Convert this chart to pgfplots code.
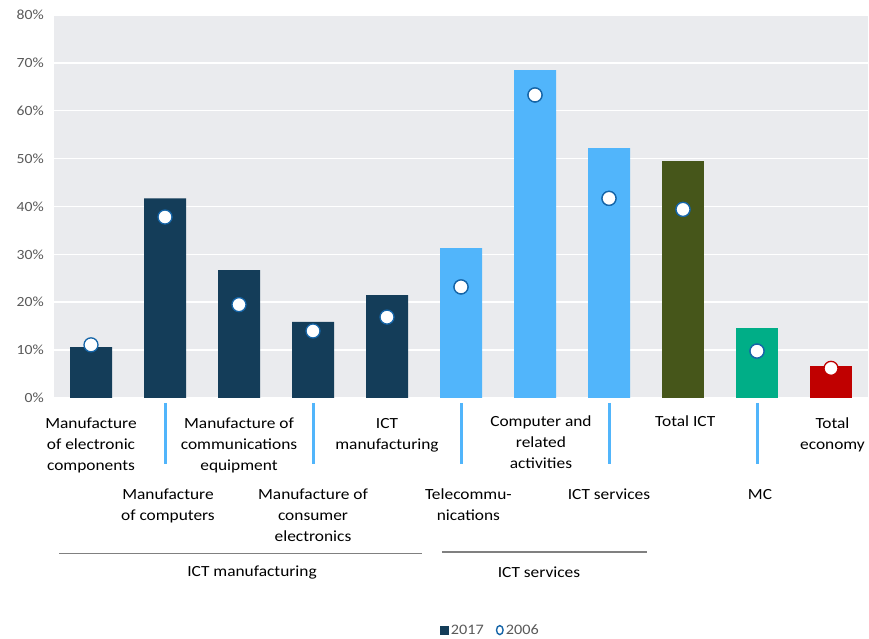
\documentclass[border=0pt]{standalone}
\usepackage{pgfplots}
\pgfplotsset{compat=1.18}
\usepackage{fontspec}
\setmainfont{Carlito}[FakeStretch=1.12]
\definecolor{navy}{HTML}{143D59}
\definecolor{lblue}{HTML}{51B5FB}
\definecolor{olive}{HTML}{46561A}
\definecolor{teal}{HTML}{00AE87}
\definecolor{dred}{HTML}{C00000}
\definecolor{bg}{HTML}{EAEBEE}
\definecolor{mblue}{HTML}{1565A8}
\definecolor{tickgray}{HTML}{595959}
\definecolor{grpgray}{HTML}{808080}
\newcommand{\lbl}{\fontsize{15.5}{21}\selectfont}
\begin{document}
\begin{tikzpicture}[x=1pt,y=1pt]
\useasboundingbox (0,0) rectangle (869,639);
\begin{axis}[
  at={(54pt,241pt)}, anchor=south west,
  scale only axis, width=814pt, height=383pt,
  xmin=-0.5, xmax=10.5, ymin=0, ymax=80,
  axis background/.style={fill=bg},
  axis line style={draw=none},
  ytick={0,10,...,80},
  yticklabel={\pgfmathprintnumber{\tick}\%},
  yticklabel style={font=\fontsize{14}{16}\selectfont, text=tickgray, anchor=east, xshift=-10pt, inner sep=0pt},
  xtick=\empty, minor xtick={0.5,1.5,...,9.5},
  ymajorgrids, xminorgrids,
  grid style={white, line width=1.5pt},
  major tick length=0pt, minor tick length=0pt,
  clip=false,
  /pgf/number format/assume math mode=true,
  legend style={draw=none, fill=none, at={(0.536,-0.606)}, anchor=center,
    legend columns=2, font=\fontsize{14.5}{16}\selectfont, text=tickgray,
    /tikz/every even column/.append style={column sep=10pt}},
]
\addplot[ybar, bar width=42pt, bar shift=0pt, fill=navy, draw=none,
  legend image code/.code={\fill[navy] (0pt,-4.5pt) rectangle (9pt,4.5pt);}]
  coordinates {(0,10.65) (1,41.7) (2,26.7) (3,15.9) (4,21.5)};
\addlegendentry{2017}
\addplot[only marks, mark=*, mark size=7pt, mark options={fill=white, draw=mblue, line width=1.3pt},
  legend image code/.code={\draw[mblue, line width=1.4pt, fill=white] (5pt,0pt) ellipse (3.3pt and 4.5pt);}]
  coordinates {(0,11.1) (1,37.8) (2,19.5) (3,14.0) (4,16.9) (5,23.2) (6,63.3) (7,41.7) (8,39.4) (9,9.8)};
\addlegendentry{2006}
\addplot[ybar, bar width=42pt, bar shift=0pt, fill=lblue, draw=none, forget plot]
  coordinates {(5,31.3) (6,68.5) (7,52.2)};
\addplot[ybar, bar width=42pt, bar shift=0pt, fill=olive, draw=none, forget plot]
  coordinates {(8,49.5)};
\addplot[ybar, bar width=42pt, bar shift=0pt, fill=teal, draw=none, forget plot]
  coordinates {(9,14.6)};
\addplot[ybar, bar width=42pt, bar shift=0pt, fill=dred, draw=none, forget plot]
  coordinates {(10,6.7)};
% redraw markers on top of later bars
\addplot[only marks, mark=*, mark size=7pt, mark options={fill=white, draw=mblue, line width=1.3pt}, forget plot]
  coordinates {(5,23.2) (6,63.3) (7,41.7) (8,39.4) (9,9.8)};
\addplot[only marks, mark=*, mark size=7pt, mark options={fill=white, draw=dred, line width=1.3pt}, forget plot]
  coordinates {(10,6.2)};
% tick connector lines
\foreach \c in {1,3,5,7,9}{
  \edef\tmp{\noexpand\draw[lblue, line width=3pt] ([yshift=-5pt]axis cs:\c,0) -- ([yshift=-66pt]axis cs:\c,0);}
  \tmp
}
% category labels, upper row
\begin{scope}[every node/.style={anchor=north, align=center, font=\lbl, inner sep=0pt, text=black}]
\node at ([yshift=-20pt]axis cs:0,0) {Manufacture\\of electronic\\components};
\node at ([yshift=-20pt]axis cs:2,0) {Manufacture of\\communications\\equipment};
\node at ([yshift=-20pt]axis cs:4,0) {ICT\\manufacturing};
\node at ([yshift=-18pt]axis cs:6.08,0) {Computer and\\related\\activities};
\node at ([yshift=-18pt]axis cs:8.03,0) {Total ICT};
\node at ([yshift=-20pt]axis cs:10.02,0) {Total\\economy};
% lower row
\node at ([yshift=-91pt]axis cs:1.04,0) {Manufacture\\of computers};
\node at ([yshift=-91pt]axis cs:3,0) {Manufacture of\\consumer\\electronics};
\node at ([yshift=-91pt]axis cs:5.1,0) {Telecommu-\\nications};
\node at ([yshift=-91pt]axis cs:7,0) {ICT services};
\node at ([yshift=-91pt]axis cs:9.04,0) {MC};
\end{scope}
% group brackets
\draw[grpgray, line width=1.5pt] ([yshift=-155.5pt]axis cs:-0.432,0) -- ([yshift=-155.5pt]axis cs:4.473,0);
\draw[grpgray, line width=1.5pt] ([yshift=-154pt]axis cs:4.743,0) -- ([yshift=-154pt]axis cs:7.514,0);
\node[font=\lbl, anchor=center] at ([yshift=-174pt]axis cs:2.176,0) {ICT manufacturing};
\node[font=\lbl, anchor=center] at ([yshift=-174pt]axis cs:6.054,0) {ICT services};
\end{axis}
\end{tikzpicture}
\end{document}
